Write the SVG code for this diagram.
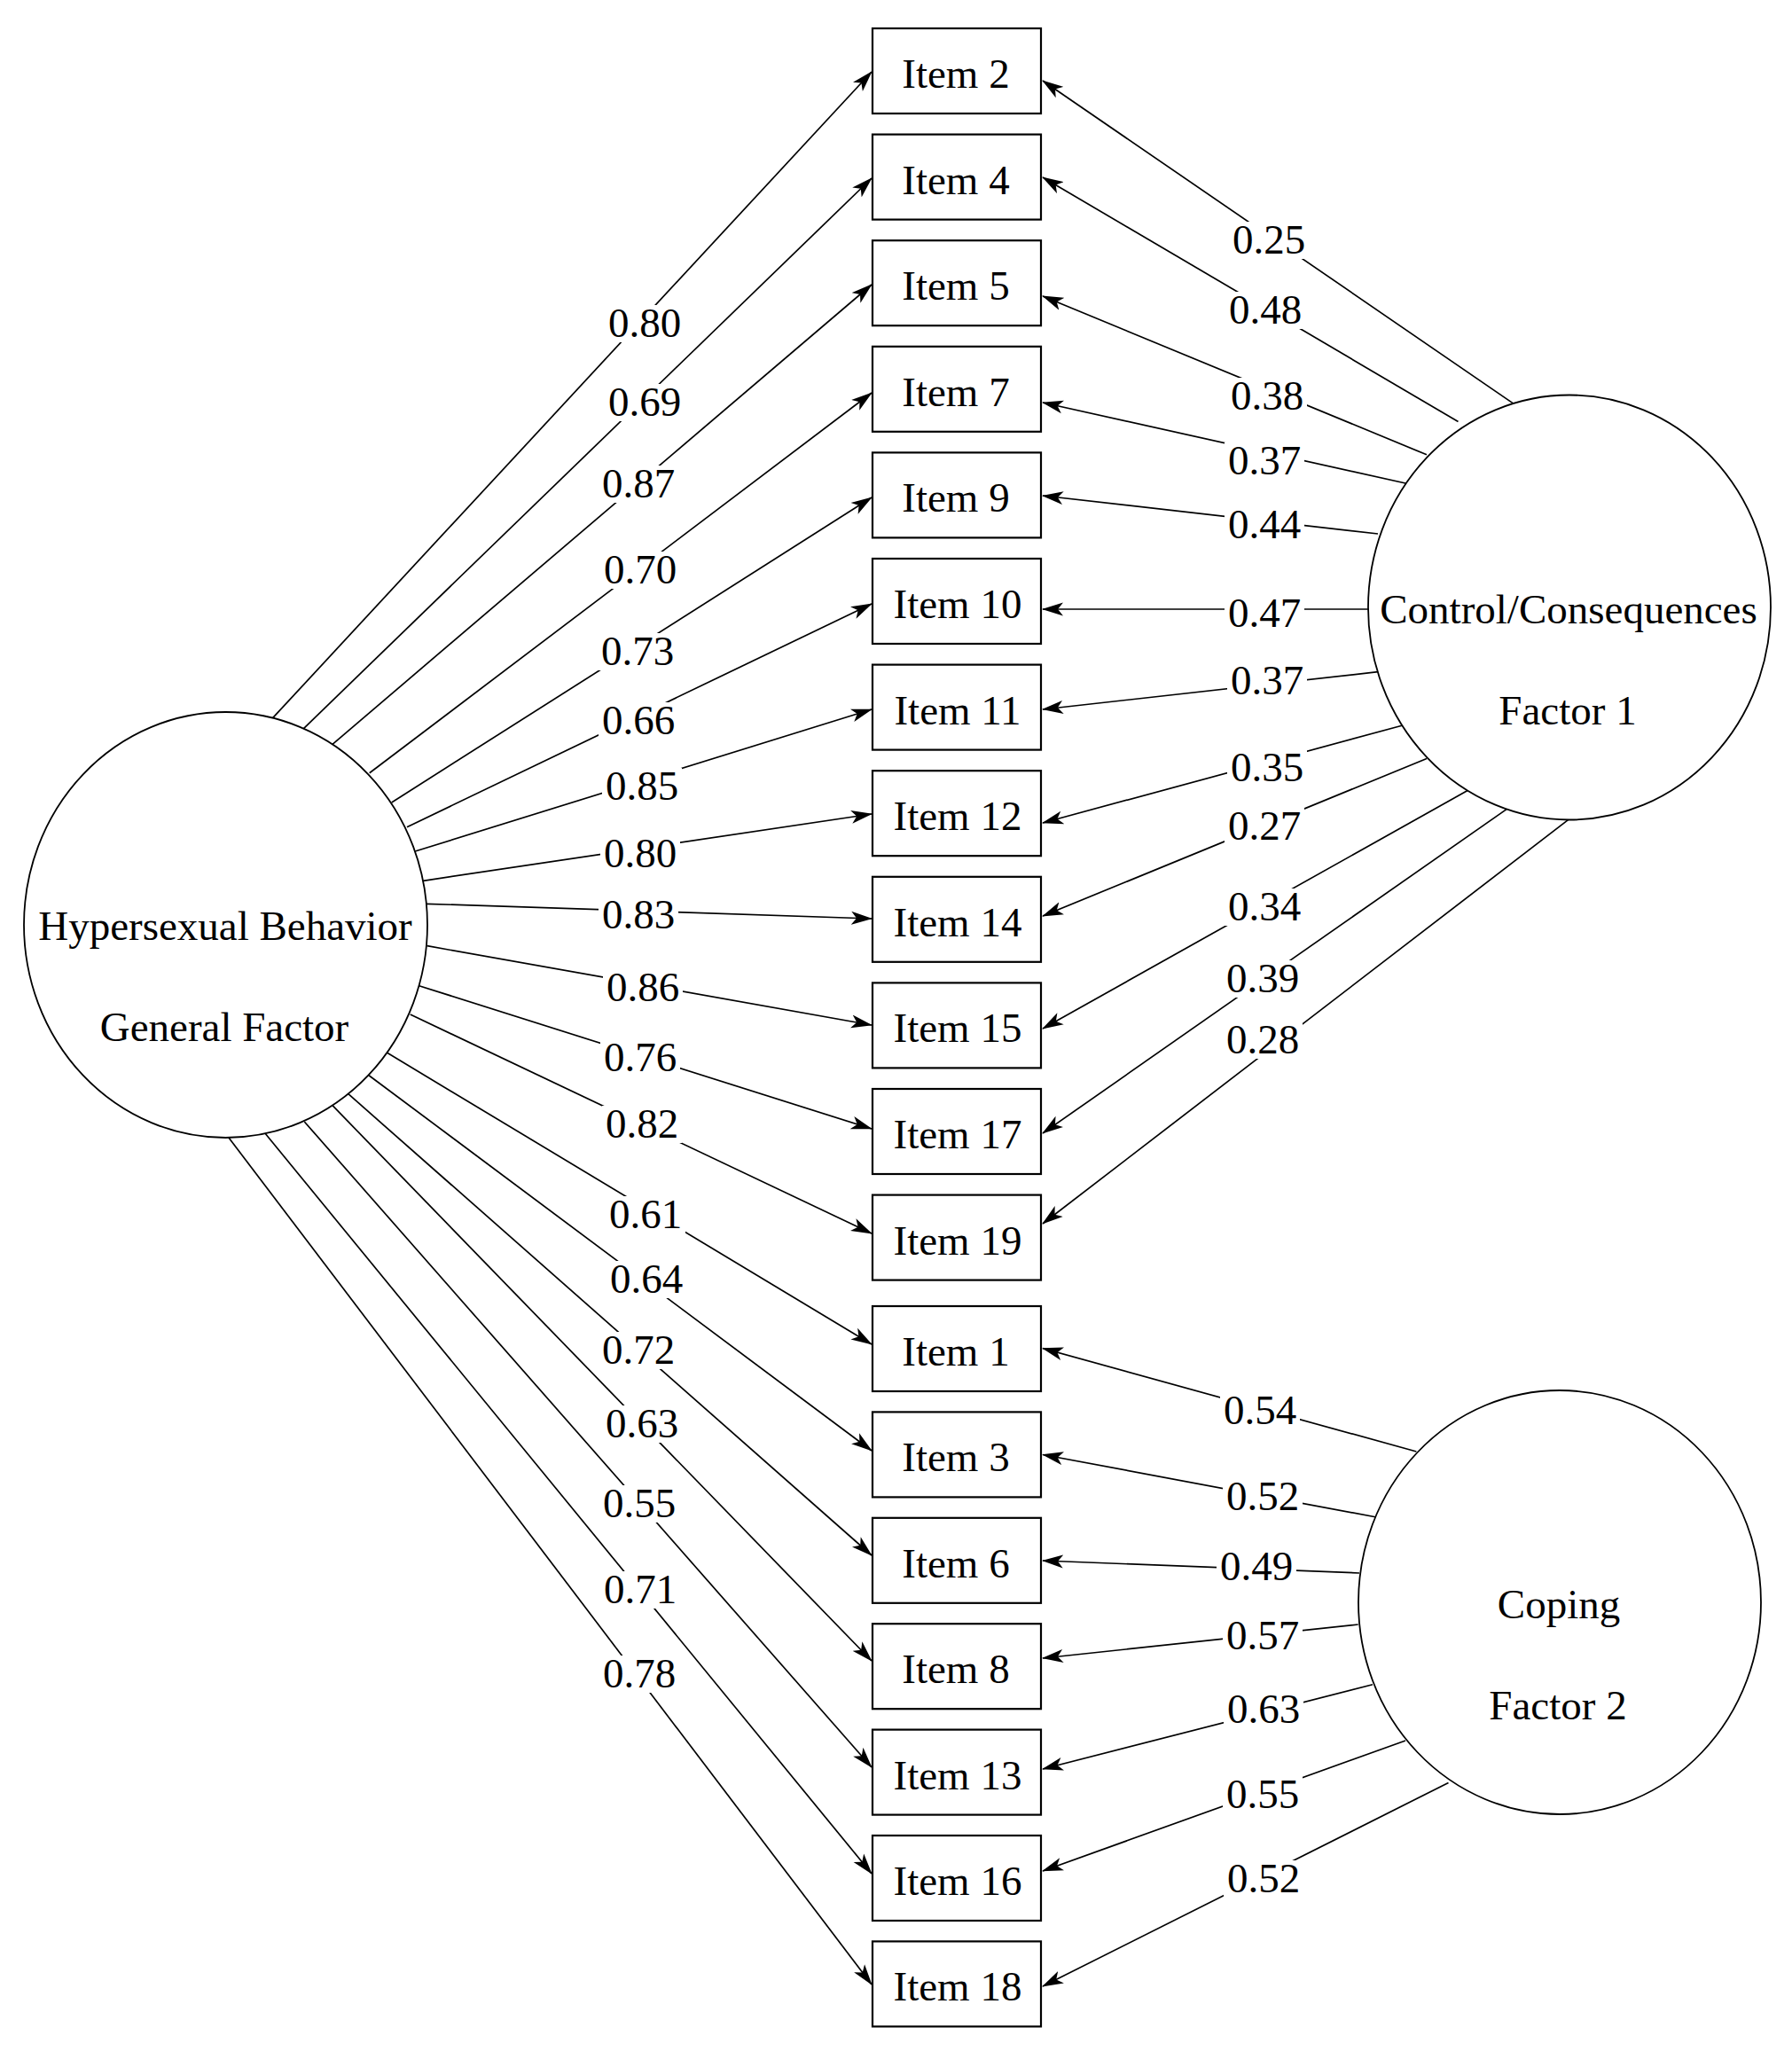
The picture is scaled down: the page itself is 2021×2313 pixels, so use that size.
<svg xmlns="http://www.w3.org/2000/svg" width="2021" height="2313" viewBox="0 0 2021 2313">
<style>
text{font-family:"Liberation Serif","Times New Roman",serif;font-size:47px;fill:#000;text-anchor:middle}
.box{fill:#fff;stroke:#000;stroke-width:2.2}
.lat{fill:#fff;stroke:#000;stroke-width:1.8}
.c line{stroke:#000;stroke-width:1.7;marker-end:url(#ah)}
.lb rect{fill:#fff;stroke:none}
</style>
<defs>
<marker id="ah" markerUnits="userSpaceOnUse" markerWidth="24" markerHeight="16" viewBox="0 0 24 16" refX="23" refY="8" orient="auto">
<path d="M0,0.5 L24,8 L0,15.5 L6,8 Z" fill="#000"/>
</marker>
</defs>
<rect width="2021" height="2313" fill="#fff"/>
<g class="c" id="connectors">
<line x1="306.7" y1="810.7" x2="983" y2="81"/>
<line x1="341.7" y1="822.3" x2="983" y2="201"/>
<line x1="375" y1="839.3" x2="983" y2="321"/>
<line x1="416.7" y1="871.7" x2="983" y2="443"/>
<line x1="441.7" y1="905" x2="983" y2="561"/>
<line x1="459" y1="932.7" x2="983" y2="681"/>
<line x1="468.3" y1="960" x2="983" y2="800"/>
<line x1="477.3" y1="993.3" x2="983" y2="918"/>
<line x1="480.7" y1="1019.3" x2="983" y2="1036"/>
<line x1="481.7" y1="1066.7" x2="983" y2="1156"/>
<line x1="472.7" y1="1111.7" x2="983" y2="1273"/>
<line x1="462.7" y1="1144" x2="983" y2="1391"/>
<line x1="436.7" y1="1187.3" x2="983" y2="1516"/>
<line x1="416" y1="1212.7" x2="983" y2="1636"/>
<line x1="391.7" y1="1232.7" x2="983" y2="1754"/>
<line x1="375" y1="1246.7" x2="983" y2="1873"/>
<line x1="343.3" y1="1265" x2="983" y2="1993"/>
<line x1="298.3" y1="1277.3" x2="983" y2="2113"/>
<line x1="257.6" y1="1282.5" x2="983" y2="2238"/>
<line x1="1709" y1="456.6" x2="1176" y2="91"/>
<line x1="1644.5" y1="475.5" x2="1176" y2="200"/>
<line x1="1609" y1="512.8" x2="1176" y2="334"/>
<line x1="1589.7" y1="546" x2="1176" y2="454"/>
<line x1="1554" y1="602" x2="1176" y2="559"/>
<line x1="1544.6" y1="687" x2="1176" y2="687"/>
<line x1="1554" y1="757.7" x2="1176" y2="800"/>
<line x1="1582" y1="818" x2="1176" y2="928"/>
<line x1="1609" y1="855.5" x2="1176" y2="1033"/>
<line x1="1656" y1="891" x2="1176" y2="1160"/>
<line x1="1700.5" y1="911.6" x2="1176" y2="1278"/>
<line x1="1768.8" y1="924.4" x2="1176" y2="1380"/>
<line x1="1597.4" y1="1637" x2="1176" y2="1520.6"/>
<line x1="1552.4" y1="1711" x2="1176" y2="1640.5"/>
<line x1="1533" y1="1774" x2="1176" y2="1760"/>
<line x1="1531.7" y1="1832" x2="1176" y2="1870"/>
<line x1="1548" y1="1899.7" x2="1176" y2="1995"/>
<line x1="1585" y1="1963" x2="1176" y2="2110"/>
<line x1="1633.5" y1="2010.5" x2="1176" y2="2240"/>
</g>
<g class="lb" id="labels">
<rect x="682" y="344" width="90" height="42"/><text x="727" y="380">0.80</text>
<rect x="682" y="433" width="90" height="42"/><text x="727" y="469">0.69</text>
<rect x="675" y="525" width="90" height="42"/><text x="720" y="561">0.87</text>
<rect x="677" y="622" width="90" height="42"/><text x="722" y="658">0.70</text>
<rect x="674" y="714" width="90" height="42"/><text x="719" y="750">0.73</text>
<rect x="675" y="792" width="90" height="42"/><text x="720" y="828">0.66</text>
<rect x="679" y="866" width="90" height="42"/><text x="724" y="902">0.85</text>
<rect x="677" y="942" width="90" height="42"/><text x="722" y="978">0.80</text>
<rect x="675" y="1011" width="90" height="42"/><text x="720" y="1047">0.83</text>
<rect x="680" y="1093" width="90" height="42"/><text x="725" y="1129">0.86</text>
<rect x="677" y="1172" width="90" height="42"/><text x="722" y="1208">0.76</text>
<rect x="679" y="1247" width="90" height="42"/><text x="724" y="1283">0.82</text>
<rect x="683" y="1349" width="90" height="42"/><text x="728" y="1385">0.61</text>
<rect x="684" y="1422" width="90" height="42"/><text x="729" y="1458">0.64</text>
<rect x="675" y="1502" width="90" height="42"/><text x="720" y="1538">0.72</text>
<rect x="679" y="1585" width="90" height="42"/><text x="724" y="1621">0.63</text>
<rect x="676" y="1675" width="90" height="42"/><text x="721" y="1711">0.55</text>
<rect x="677" y="1772" width="90" height="42"/><text x="722" y="1808">0.71</text>
<rect x="676" y="1867" width="90" height="42"/><text x="721" y="1903">0.78</text>
<rect x="1386" y="250" width="90" height="42"/><text x="1431" y="286">0.25</text>
<rect x="1382" y="329" width="90" height="42"/><text x="1427" y="365">0.48</text>
<rect x="1384" y="426" width="90" height="42"/><text x="1429" y="462">0.38</text>
<rect x="1381" y="499" width="90" height="42"/><text x="1426" y="535">0.37</text>
<rect x="1381" y="571" width="90" height="42"/><text x="1426" y="607">0.44</text>
<rect x="1381" y="671" width="90" height="42"/><text x="1426" y="707">0.47</text>
<rect x="1384" y="747" width="90" height="42"/><text x="1429" y="783">0.37</text>
<rect x="1384" y="845" width="90" height="42"/><text x="1429" y="881">0.35</text>
<rect x="1381" y="911" width="90" height="42"/><text x="1426" y="947">0.27</text>
<rect x="1381" y="1002" width="90" height="42"/><text x="1426" y="1038">0.34</text>
<rect x="1379" y="1083" width="90" height="42"/><text x="1424" y="1119">0.39</text>
<rect x="1379" y="1152" width="90" height="42"/><text x="1424" y="1188">0.28</text>
<rect x="1376" y="1570" width="90" height="42"/><text x="1421" y="1606">0.54</text>
<rect x="1379" y="1667" width="90" height="42"/><text x="1424" y="1703">0.52</text>
<rect x="1372" y="1746" width="90" height="42"/><text x="1417" y="1782">0.49</text>
<rect x="1379" y="1824" width="90" height="42"/><text x="1424" y="1860">0.57</text>
<rect x="1380" y="1907" width="90" height="42"/><text x="1425" y="1943">0.63</text>
<rect x="1379" y="2003" width="90" height="42"/><text x="1424" y="2039">0.55</text>
<rect x="1380" y="2098" width="90" height="42"/><text x="1425" y="2134">0.52</text>
</g>
<g id="general"><ellipse class="lat" cx="254.5" cy="1043" rx="227.5" ry="240"/><text x="254" y="1060">Hypersexual Behavior</text><text x="253" y="1174">General Factor</text></g>
<g id="factor1"><ellipse class="lat" cx="1770" cy="685" rx="227" ry="239.5"/><text x="1769" y="703">Control/Consequences</text><text x="1768" y="817">Factor 1</text></g>
<g id="factor2"><ellipse class="lat" cx="1759" cy="1807" rx="227" ry="239"/><text x="1758" y="1825">Coping</text><text x="1757" y="1939">Factor 2</text></g>
<g id="item2"><rect class="box" x="984" y="32" width="190" height="96"/><text x="1078" y="99">Item 2</text></g>
<g id="item4"><rect class="box" x="984" y="151.6" width="190" height="96"/><text x="1078" y="218.6">Item 4</text></g>
<g id="item5"><rect class="box" x="984" y="271.2" width="190" height="96"/><text x="1078" y="338.2">Item 5</text></g>
<g id="item7"><rect class="box" x="984" y="390.8" width="190" height="96"/><text x="1078" y="457.8">Item 7</text></g>
<g id="item9"><rect class="box" x="984" y="510.4" width="190" height="96"/><text x="1078" y="577.4">Item 9</text></g>
<g id="item10"><rect class="box" x="984" y="630" width="190" height="96"/><text x="1080" y="697">Item 10</text></g>
<g id="item11"><rect class="box" x="984" y="749.6" width="190" height="96"/><text x="1080" y="816.6">Item 11</text></g>
<g id="item12"><rect class="box" x="984" y="869.2" width="190" height="96"/><text x="1080" y="936.2">Item 12</text></g>
<g id="item14"><rect class="box" x="984" y="988.8" width="190" height="96"/><text x="1080" y="1055.8">Item 14</text></g>
<g id="item15"><rect class="box" x="984" y="1108.4" width="190" height="96"/><text x="1080" y="1175.4">Item 15</text></g>
<g id="item17"><rect class="box" x="984" y="1228" width="190" height="96"/><text x="1080" y="1295">Item 17</text></g>
<g id="item19"><rect class="box" x="984" y="1347.6" width="190" height="96"/><text x="1080" y="1414.6">Item 19</text></g>
<g id="item1"><rect class="box" x="984" y="1473" width="190" height="96"/><text x="1078" y="1540">Item 1</text></g>
<g id="item3"><rect class="box" x="984" y="1592.4" width="190" height="96"/><text x="1078" y="1659.4">Item 3</text></g>
<g id="item6"><rect class="box" x="984" y="1711.8" width="190" height="96"/><text x="1078" y="1778.8">Item 6</text></g>
<g id="item8"><rect class="box" x="984" y="1831.2" width="190" height="96"/><text x="1078" y="1898.2">Item 8</text></g>
<g id="item13"><rect class="box" x="984" y="1950.6" width="190" height="96"/><text x="1080" y="2017.6">Item 13</text></g>
<g id="item16"><rect class="box" x="984" y="2070" width="190" height="96"/><text x="1080" y="2137">Item 16</text></g>
<g id="item18"><rect class="box" x="984" y="2189.4" width="190" height="96"/><text x="1080" y="2256.4">Item 18</text></g>
</svg>
